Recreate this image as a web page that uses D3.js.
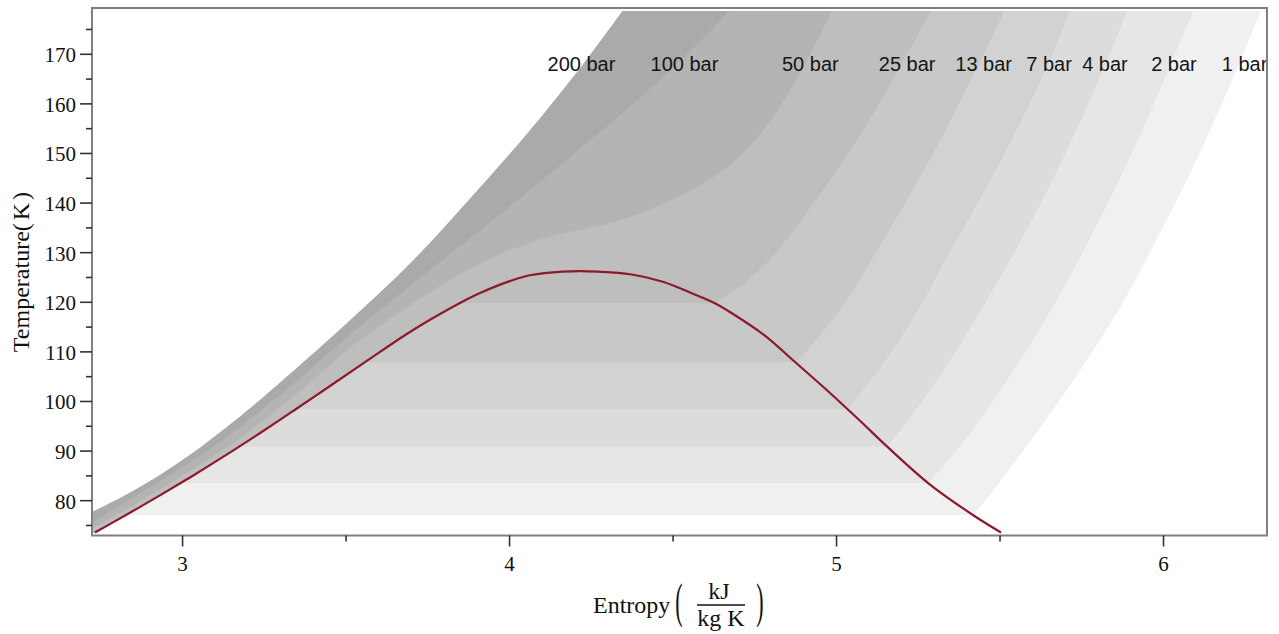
<!DOCTYPE html>
<html><head><meta charset="utf-8">
<script src="https://cdn.jsdelivr.net/npm/d3@7"></script>
<style>body{margin:0;background:#fff}svg{display:block}</style>
</head><body>
<svg id="chart" width="1279" height="634"></svg>
<script>
// ---- saturation dome (liquid side -> critical point -> vapour side) ----
const domeS = [2.732, 2.827, 2.924, 2.993, 3.024, 3.125, 3.173, 3.236, 3.335, 3.346, 3.433, 3.557, 3.705, 3.847, 3.908, 4.011, 4.067, 4.163, 4.216, 4.268, 4.369, 4.469, 4.570, 4.628, 4.680, 4.778, 4.874, 4.970, 5.034, 5.080, 5.155, 5.281, 5.417, 5.503];
const domeT = [73.59, 77.12, 80.81, 83.51, 84.72, 88.87, 90.89, 93.59, 97.94, 98.43, 102.32, 107.90, 114.42, 119.80, 121.81, 124.50, 125.50, 126.17, 126.27, 126.17, 125.65, 124.15, 121.47, 119.80, 117.78, 113.41, 107.90, 102.32, 98.43, 95.60, 90.89, 83.51, 77.12, 73.59];

// ---- isobars (entropy kJ/kg K vs temperature K) ----
const pressures = [1, 2, 4, 7, 13, 25, 50, 100, 200];
const pressureLabels = ["1 bar", "2 bar", "4 bar", "7 bar", "13 bar", "25 bar", "50 bar", "100 bar", "200 bar"];
const satTemps = [77.12, 83.51, 90.89, 98.43, 107.90, 119.80, null, null, null];

const iso1S = [5.417, 5.455, 5.513, 5.570, 5.680, 5.782, 5.876, 5.958, 6.036, 6.110, 6.178, 6.243, 6.298];
const iso1T = [77.12, 80, 85, 90, 100, 110, 120, 130, 140, 150, 160, 170, 178.75];
const iso2S = [5.281, 5.365, 5.478, 5.578, 5.670, 5.752, 5.830, 5.903, 5.970, 6.035, 6.092];
const iso2T = [83.51, 90, 100, 110, 120, 130, 140, 150, 160, 170, 178.75];
const iso4S = [5.155, 5.262, 5.364, 5.456, 5.543, 5.625, 5.700, 5.770, 5.835, 5.889];
const iso4T = [90.89, 100, 110, 120, 130, 140, 150, 160, 170, 178.75];
const iso7S = [5.034, 5.054, 5.168, 5.263, 5.345, 5.432, 5.514, 5.590, 5.660, 5.713];
const iso7T = [98.43, 100, 110, 120, 130, 140, 150, 160, 170, 178.75];
const iso13S = [4.874, 4.906, 5.027, 5.120, 5.210, 5.295, 5.375, 5.450, 5.513];
const iso13T = [107.90, 110, 120, 130, 140, 150, 160, 170, 178.75];
const iso25S = [4.628, 4.680, 4.738, 4.815, 4.930, 5.035, 5.130, 5.215, 5.289];
const iso25T = [119.80, 122, 125, 130, 140, 150, 160, 170, 178.75];
const iso50S = [2.672, 2.873, 3.118, 3.320, 3.497, 3.553, 3.655, 3.757, 3.859, 3.961, 4.063, 4.165, 4.267, 4.368, 4.470, 4.591, 4.667, 4.755, 4.823, 4.903, 4.987];
const iso50T = [72.5, 80, 90, 100, 110, 112.9, 117.6, 122.0, 126.0, 129.4, 132.0, 133.9, 135.3, 137.2, 139.9, 143.9, 147.3, 153.0, 159.0, 168.0, 178.75];
const iso100S = [2.640, 2.833, 3.075, 3.274, 3.451, 3.553, 3.655, 3.757, 3.860, 3.962, 4.074, 4.174, 4.272, 4.368, 4.459, 4.587, 4.673];
const iso100T = [72.5, 80, 90, 100, 110, 115.77, 121.13, 126.51, 131.90, 137.26, 143.31, 148.69, 154.07, 159.44, 164.82, 172.88, 178.75];
const iso200S = [2.706, 2.735, 2.815, 2.922, 3.029, 3.136, 3.248, 3.502, 3.706, 3.884, 4.063, 4.225, 4.345];
const iso200T = [77.2, 78.12, 80.81, 84.84, 89.56, 94.92, 100.97, 115.77, 128.53, 141.29, 154.74, 168.04, 178.75];

// label positions (entropy at which each label is centred) and label temperature
const labelS = [6.248, 6.032, 5.821, 5.650, 5.450, 5.216, 4.920, 4.535, 4.220];
const labelT = 168;

// fill for region p >= pressure (index aligned with pressures)
const bandColors = ["#f0f0f0", "#e6e6e6", "#dcdcdc", "#d2d2d2", "#c8c8c8", "#bebebe", "#b4b4b4", "#aaaaaa", "#ffffff"];

// axis ticks
const xTicks = [3, 4, 5, 6];
const xMinorTicks = [3.5, 4.5, 5.5];
const yTicks = [80, 90, 100, 110, 120, 130, 140, 150, 160, 170];
const yMinorTicks = [75, 85, 95, 105, 115, 125, 135, 145, 155, 165, 175];

// ---------------------------------------------------------------
(function () {
const isoS = [iso1S, iso2S, iso4S, iso7S, iso13S, iso25S, iso50S, iso100S, iso200S];
const isoT = [iso1T, iso2T, iso4T, iso7T, iso13T, iso25T, iso50T, iso100T, iso200T];

const mL = 92, mR = 1267, mT = 8, mB = 535.5;
const x = d3.scaleLinear().domain([2.723, 6.3165]).range([mL, mR]);
const y = d3.scaleLinear().domain([72.98, 179.33]).range([mB, mT]);

const svg = d3.select("#chart");
svg.append("defs").append("clipPath").attr("id", "plotclip")
  .append("rect").attr("x", mL).attr("y", mT).attr("width", mR - mL).attr("height", mB - mT);

const plot = svg.append("g").attr("clip-path", "url(#plotclip)");

const dome = domeS.map((s, i) => [s, domeT[i]]);
let critIndex = 0;
dome.forEach((d, i) => { if (d[1] > dome[critIndex][1]) critIndex = i; });

const smooth = d3.line().x(d => x(d[0])).y(d => y(d[1])).curve(d3.curveCatmullRom.alpha(0.5));
const FAR = 2.4;

function regionPath(i) {
  const iso = isoS[i].map((s, k) => [s, isoT[i][k]]);
  let d;
  if (satTemps[i] !== null) {
    const liq = dome.slice(0, critIndex + 1).filter(p => p[1] <= satTemps[i] + 1e-6);
    d = "M" + x(FAR) + "," + y(liq[0][1]) + smooth(liq).replace(/^M/, "L") + smooth(iso).replace(/^M/, "L");
  } else {
    d = "M" + x(FAR) + "," + y(iso[0][1]) + smooth(iso).replace(/^M/, "L");
  }
  const last = iso[iso.length - 1];
  d += "L" + x(FAR) + "," + y(last[1]) + "Z";
  return d;
}

plot.selectAll("path.band").data(pressures).enter().append("path")
  .attr("class", "band")
  .attr("d", (p, i) => regionPath(i))
  .attr("fill", (p, i) => bandColors[i])
  .attr("stroke", "none");

plot.append("path")
  .attr("d", smooth(dome))
  .attr("fill", "none")
  .attr("stroke", "#8b1a2b")
  .attr("stroke-width", 2.2);

plot.selectAll("text.plab").data(pressureLabels).enter().append("text")
  .attr("class", "plab")
  .attr("x", (d, i) => x(labelS[i]))
  .attr("y", y(labelT))
  .attr("text-anchor", "middle")
  .attr("dominant-baseline", "central")
  .attr("font-family", "'Liberation Sans', Arial, sans-serif")
  .attr("font-size", 20)
  .attr("fill", "#151515")
  .text(d => d);

// ---- frame & axes ----
svg.append("rect").attr("x", mL).attr("y", mT).attr("width", mR - mL).attr("height", mB - mT)
  .attr("fill", "none").attr("stroke", "#808080").attr("stroke-width", 2);

const tickCol = "#333";
const serif = "'Liberation Serif', 'Times New Roman', serif";
svg.selectAll("line.ymaj").data(yTicks).enter().append("line")
  .attr("x1", mL - 12).attr("x2", mL).attr("y1", d => y(d)).attr("y2", d => y(d))
  .attr("stroke", tickCol).attr("stroke-width", 1.6);
svg.selectAll("line.ymin").data(yMinorTicks).enter().append("line")
  .attr("x1", mL - 6).attr("x2", mL).attr("y1", d => y(d)).attr("y2", d => y(d))
  .attr("stroke", tickCol).attr("stroke-width", 1.6);
svg.selectAll("text.ylab").data(yTicks).enter().append("text")
  .attr("x", 76).attr("y", d => y(d) + 1)
  .attr("text-anchor", "end").attr("dominant-baseline", "central")
  .attr("font-family", serif).attr("font-size", 21).attr("fill", "#111")
  .text(d => d);

svg.selectAll("line.xmaj").data(xTicks).enter().append("line")
  .attr("x1", d => x(d)).attr("x2", d => x(d)).attr("y1", mB).attr("y2", mB + 11)
  .attr("stroke", tickCol).attr("stroke-width", 1.6);
svg.selectAll("line.xmin").data(xMinorTicks).enter().append("line")
  .attr("x1", d => x(d)).attr("x2", d => x(d)).attr("y1", mB).attr("y2", mB + 6)
  .attr("stroke", tickCol).attr("stroke-width", 1.6);
svg.selectAll("text.xlab").data(xTicks).enter().append("text")
  .attr("x", d => x(d)).attr("y", 571)
  .attr("text-anchor", "middle")
  .attr("font-family", serif).attr("font-size", 21).attr("fill", "#111")
  .text(d => d);

// y axis title
const yt = svg.append("text")
  .attr("transform", "translate(29,272) rotate(-90)")
  .attr("text-anchor", "middle")
  .attr("font-family", serif).attr("font-size", 24).attr("fill", "#111");
yt.append("tspan").text("Temperature(");
yt.append("tspan").attr("dx", 3).text("K");
yt.append("tspan").attr("dx", 3).text(")");

// x axis title with fraction
const xt = svg.append("g").attr("font-family", serif).attr("fill", "#111");
xt.append("text").attr("x", 593).attr("y", 613).attr("font-size", 24).text("Entropy");
xt.append("text").attr("x", 0).attr("y", 0).attr("font-size", 22).attr("text-anchor", "middle")
  .attr("transform", "translate(679,617) scale(1,2.2)").text("(");
xt.append("text").attr("x", 719).attr("y", 599).attr("font-size", 24).attr("text-anchor", "middle").text("kJ");
xt.append("line").attr("x1", 697).attr("x2", 745).attr("y1", 605).attr("y2", 605).attr("stroke", "#111").attr("stroke-width", 1.3);
xt.append("text").attr("x", 721).attr("y", 626).attr("font-size", 24).attr("text-anchor", "middle").text("kg K");
xt.append("text").attr("x", 0).attr("y", 0).attr("font-size", 22).attr("text-anchor", "middle")
  .attr("transform", "translate(760,617) scale(1,2.2)").text(")");
})();
</script>
</body></html>
